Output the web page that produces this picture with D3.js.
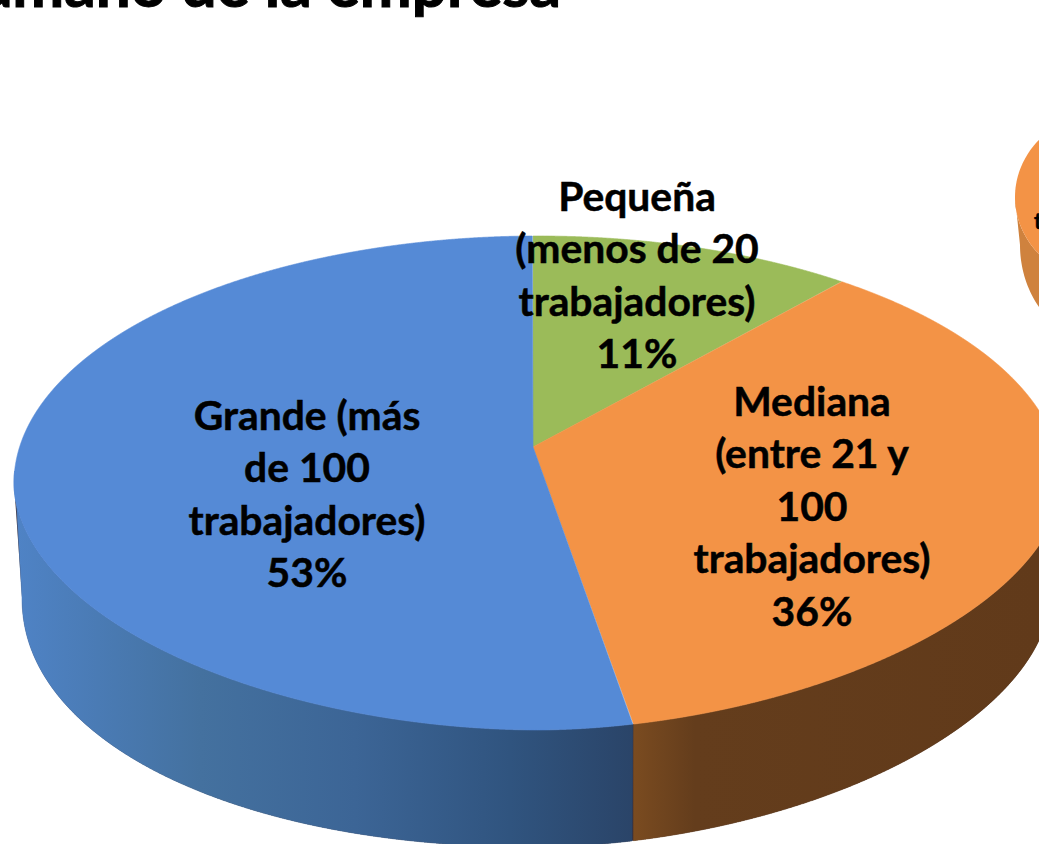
<!DOCTYPE html>
<html><head><meta charset="utf-8">
<script src="https://cdn.jsdelivr.net/npm/d3@7"></script>
<style>html,body{margin:0;padding:0;background:#fff;overflow:hidden}svg{display:block}text{font-family:Lato,"Open Sans",sans-serif;font-weight:700;fill:#000;stroke:#000;stroke-width:.5px}</style>
</head><body><svg id="c" width="1039" height="844"></svg>
<script>
const titleText = "Tamaño de la empresa";
const categories = ["Pequeña", "Mediana", "Grande"];
const values = [11, 36, 53];
const sliceColors = ["#9bbb59", "#f39346", "#558ad6"];
const labelLines = [
  ["Pequeña", "(menos de 20", "trabajadores)", "11%"],
  ["Mediana", "(entre 21 y", "100", "trabajadores)", "36%"],
  ["Grande (más", "de 100", "trabajadores)", "53%"]
];
const labelX = [637, 812, 307];
const labelTop = [211, 416, 430];
const lineGap = 52.4;

const W = 1039, H = 844;
const svg = d3.select("#c");
const apex = {x: 533, y: 447};
const topE = {cx: 538, cy: 483, rx: 524, ry: 247, pL: 1.92, pR: 1.84};
const botE = {cx: 536, cy: 597, rx: 514, ry: 250, pL: 2.1, pR: 1.85};

function outline(e, t) { // t measured clockwise from top
  const s = Math.sin(t), c = Math.cos(t);
  const p = c < 0 ? (s < 0 ? e.pL : e.pR) : 2;
  return {x: e.cx + e.rx * Math.sign(s) * Math.pow(Math.abs(s), 2 / p),
          y: e.cy - e.ry * Math.sign(c) * Math.pow(Math.abs(c), 2 / p), t};
}
const samples = d3.range(0, 4001).map(i => i / 4000 * 2 * Math.PI);
const topPts = samples.map(t => outline(topE, t));
const botPts = samples.map(t => outline(botE, t));
function dirAngle(p) {
  let a = Math.atan2(p.x - apex.x, apex.y - p.y);
  return a < 0 ? a + 2 * Math.PI : a;
}
function mapAngle(th) {
  const k = Math.cos(th) >= 0 ? 2.26 : 1.9;
  let a = Math.atan2(Math.sin(th) * k, Math.cos(th));
  return a < 0 ? a + 2 * Math.PI : a;
}
const pie = d3.pie().sort(null)(values);
const lineGen = d3.line().x(d => d.x).y(d => d.y);

const defs = svg.append("defs");
const gradBlue = defs.append("linearGradient").attr("id", "sideBlue").attr("gradientUnits", "userSpaceOnUse")
  .attr("x1", 14).attr("x2", 634).attr("y1", 0).attr("y2", 0);
[[0, "#4f83c6"], [0.3, "#44719f"], [0.55, "#3c6596"], [0.8, "#30547f"], [1, "#2a4468"]]
  .forEach(s => gradBlue.append("stop").attr("offset", s[0]).attr("stop-color", s[1]));
const gradBrown = defs.append("linearGradient").attr("id", "sideBrown").attr("gradientUnits", "userSpaceOnUse")
  .attr("x1", 634).attr("x2", 1039).attr("y1", 0).attr("y2", 0);
[[0, "#7a4b20"], [0.15, "#643d1c"], [1, "#613a1a"]]
  .forEach(s => gradBrown.append("stop").attr("offset", s[0]).attr("stop-color", s[1]));

const sideFill = ["#6f8a3f", "url(#sideBrown)", "url(#sideBlue)"];

// Backing so no seam shows between the side walls
const inLower = p => p.t >= Math.PI * 0.5 && p.t <= Math.PI * 1.5;
svg.append("path").attr("d", lineGen(topPts.filter(inLower).concat(botPts.filter(inLower).reverse())) + "Z").attr("fill", "#3a2a30");

// Sides first, then the surface
pie.forEach((d, i) => {
  const a0 = mapAngle(d.startAngle), a1 = mapAngle(d.endAngle - 1e-6);
  const upper = topPts.filter(p => { const a = dirAngle(p); return a >= a0 && a <= a1 && p.t >= Math.PI * 0.5 - 0.05 && p.t <= Math.PI * 1.5 + 0.05; });
  if (!upper.length) return;
  const xMin = d3.min(upper, p => p.x), xMax = d3.max(upper, p => p.x);
  const lower = botPts.filter(p => p.x >= xMin - 9 && p.x <= xMax + 9 && p.t >= Math.PI * 0.5 && p.t <= Math.PI * 1.5)
    .filter(p => i === 2 ? p.x <= xMax : p.x >= xMin);
  svg.append("path").attr("d", lineGen(upper.concat(lower.slice().reverse())) + "Z")
    .attr("fill", sideFill[i]).attr("stroke", sideFill[i]).attr("stroke-width", 0.6);
});
pie.forEach((d, i) => {
  const a0 = mapAngle(d.startAngle), a1 = mapAngle(d.endAngle - 1e-6);
  const arcPts = topPts.filter(p => { const a = dirAngle(p); return a >= a0 && a <= a1; })
    .sort((p, q) => dirAngle(p) - dirAngle(q));
  svg.append("path").attr("d", lineGen([apex, ...arcPts]) + "Z")
    .attr("fill", sliceColors[i]).attr("stroke", sliceColors[i]).attr("stroke-width", 0.6);
});

// Fragment of the neighbouring pie at the right edge
const fragTop = {cx: 1115, cy: 197, rx: 100, ry: 88, pL: 2, pR: 2};
const fragBot = {cx: 1108, cy: 245, rx: 88, ry: 100, pL: 2, pR: 2};
const fragAngles = d3.range(180, 361, 2).map(d => d * Math.PI / 180);
const fragSide = fragAngles.slice(0, 46).map(t => outline(fragBot, t));
svg.append("path").attr("d", lineGen([...fragSide, outline(fragTop, 3 * Math.PI / 2), ...fragAngles.slice(0, 46).reverse().map(t => outline(fragTop, t))]) + "Z").attr("fill", "#cf823e");
svg.append("path").attr("d", lineGen(fragAngles.map(t => outline(fragTop, t))) + "Z").attr("fill", sliceColors[1]);
svg.append("text").attr("x", 1034).attr("y", 229).attr("font-size", 22).text("t");

// Title (cut by the top of the picture)
svg.append("text").attr("x", 561).attr("y", 7).attr("text-anchor", "end").attr("font-size", 62).style("stroke-width", "1px").text(titleText);

// Labels
labelLines.forEach((lines, i) => {
  const t = svg.append("text").attr("text-anchor", "middle").attr("font-size", 40.8);
  lines.forEach((l, j) => t.append("tspan").attr("x", labelX[i]).attr("y", labelTop[i] + j * lineGap).text(l));
});
</script></body></html>
